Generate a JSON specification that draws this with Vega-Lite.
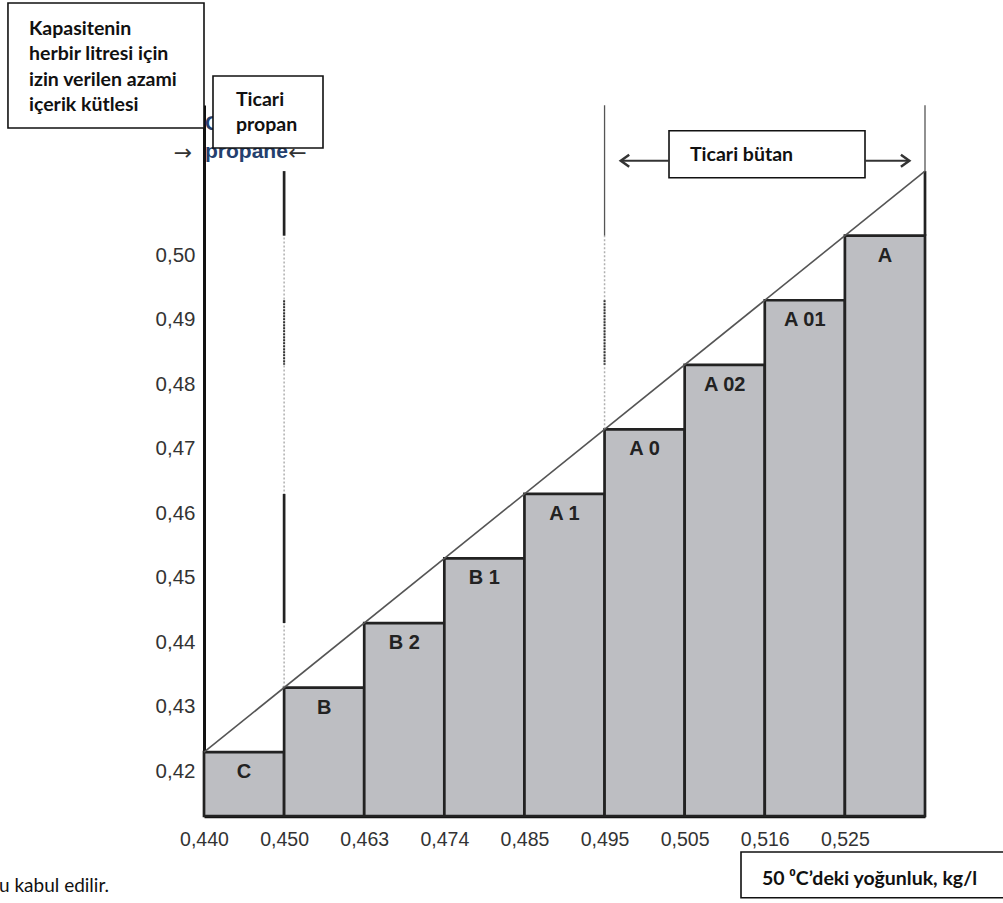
{
  "$schema": "https://vega.github.io/schema/vega-lite/v6.json",
  "width": 721,
  "height": 711,
  "autosize": {"type": "none"},
  "padding": {"left": 204, "top": 105, "right": 78, "bottom": 87},
  "background": "white",
  "config": {"view": {"stroke": null}},
  "datasets": {
    "bars": [
      {"start": 0, "end": 1, "sinif": "C", "kutle": 0.423},
      {"start": 1, "end": 2, "sinif": "B", "kutle": 0.433},
      {"start": 2, "end": 3, "sinif": "B 2", "kutle": 0.443},
      {"start": 3, "end": 4, "sinif": "B 1", "kutle": 0.453},
      {"start": 4, "end": 5, "sinif": "A 1", "kutle": 0.463},
      {"start": 5, "end": 6, "sinif": "A 0", "kutle": 0.473},
      {"start": 6, "end": 7, "sinif": "A 02", "kutle": 0.483},
      {"start": 7, "end": 8, "sinif": "A 01", "kutle": 0.493},
      {"start": 8, "end": 9, "sinif": "A", "kutle": 0.503}
    ],
    "diag": [{"k": 0, "m": 0.423}, {"k": 9, "m": 0.513}],
    "lightDots": [{"k": 1, "a": 0.433, "b": 0.513}, {"k": 5, "a": 0.473, "b": 0.503}],
    "darkSolid": [{"k": 1, "a": 0.513, "b": 0.503}, {"k": 1, "a": 0.463, "b": 0.443}, {"k": 9, "a": 0.513, "b": 0.503}],
    "darkDots": [{"k": 1, "a": 0.493, "b": 0.483}, {"k": 5, "a": 0.493, "b": 0.483}],
    "thin": [{"k": 5, "a": 0.5232, "b": 0.503}, {"k": 9, "a": 0.5232, "b": 0.513}],
    "boxes": [
      {"x1": -2.447, "x2": 0, "y1": 0.53904, "y2": 0.51968},
      {"x1": 0.1123, "x2": 1.4854, "y1": 0.52773, "y2": 0.51658},
      {"x1": 5.8045, "x2": 8.2511, "y1": 0.51926, "y2": 0.51198},
      {"x1": 6.7032, "x2": 10.05, "y1": 0.40753, "y2": 0.40044}
    ],
    "boxText": [
      {"t": "Kapasitenin\nherbir litresi için\nizin verilen azami\niçerik kütlesi", "k": -2.1845, "m": 0.53416},
      {"t": "Ticari\npropan", "k": 0.3995, "m": 0.52309},
      {"t": "Ticari bütan", "k": 6.0666, "m": 0.51457}
    ],
    "axisTitle": [{"t": "50 ⁰C’deki yoğunluk, kg/l", "k": 6.9653, "m": 0.40242}],
    "footnote": [{"t": "u kabul edilir.", "k": -2.559, "m": 0.40134}],
    "propaneText": [{"t": "C", "k": 0.0125, "m": 0.51937}, {"t": "propane", "k": 0.0125, "m": 0.51503}],
    "rightArrowChar": [{"t": "→", "k": -0.2621, "m": 0.5158}],
    "leftArrowChar": [{"t": "←", "k": 1.1671, "m": 0.5158}],
    "arrowShafts": [{"a": 5.2303, "b": 5.8045, "m": 0.51461}, {"a": 8.2511, "b": 8.8003, "m": 0.51461}],
    "leftHead": [{"k": 5.2552, "m": 0.51461}],
    "rightHead": [{"k": 8.7518, "m": 0.51461}]
  },
  "layer": [
    {
      "data": {"name": "bars"},
      "mark": {"type": "rect", "fill": "#bdbec2", "stroke": "#222222", "strokeWidth": 2.7},
      "encoding": {
        "x": {
          "field": "start", "type": "quantitative",
          "scale": {"domain": [0, 9], "nice": false, "zero": false},
          "axis": {
            "title": null, "values": [0, 1, 2, 3, 4, 5, 6, 7, 8],
            "labelExpr": "['0,440','0,450','0,463','0,474','0,485','0,495','0,505','0,516','0,525'][datum.value]",
            "labelFlush": false, "labelOverlap": false, "labelDx": -12, "tickSize": 0, "labelPadding": 14,
            "domainWidth": 3.5, "domainColor": "#111111", "grid": false,
            "labelFont": "Liberation Sans", "labelFontSize": 19.5, "labelColor": "#333333"
          }
        },
        "x2": {"field": "end"},
        "y": {
          "field": "kutle", "type": "quantitative",
          "scale": {"domain": [0.41311, 0.52324], "nice": false, "zero": false},
          "axis": {
            "title": null, "values": [0.42, 0.43, 0.44, 0.45, 0.46, 0.47, 0.48, 0.49, 0.5],
            "labelExpr": "replace(format(datum.value, '.2f'), '.', ',')",
            "tickSize": 0, "labelPadding": 9, "domainWidth": 3, "domainColor": "#111111", "grid": false,
            "labelFont": "Liberation Sans", "labelFontSize": 20.5, "labelColor": "#333333"
          }
        },
        "y2": {"datum": 0.41311}
      }
    },
    {
      "data": {"name": "lightDots"},
      "mark": {"type": "rule", "stroke": "#b0b0b0", "strokeWidth": 1.5, "strokeDash": [2, 2]},
      "encoding": {
        "x": {"field": "k", "type": "quantitative", "scale": {"domain": [0, 9], "nice": false, "zero": false}},
        "y": {"field": "a", "type": "quantitative", "scale": {"domain": [0.41311, 0.52324], "nice": false, "zero": false}},
        "y2": {"field": "b"}
      }
    },
    {
      "data": {"name": "darkSolid"},
      "mark": {"type": "rule", "stroke": "#222222", "strokeWidth": 2.7},
      "encoding": {
        "x": {"field": "k", "type": "quantitative", "scale": {"domain": [0, 9], "nice": false, "zero": false}},
        "y": {"field": "a", "type": "quantitative", "scale": {"domain": [0.41311, 0.52324], "nice": false, "zero": false}},
        "y2": {"field": "b"}
      }
    },
    {
      "data": {"name": "darkDots"},
      "mark": {"type": "rule", "stroke": "#333333", "strokeWidth": 2, "strokeDash": [2, 1]},
      "encoding": {
        "x": {"field": "k", "type": "quantitative", "scale": {"domain": [0, 9], "nice": false, "zero": false}},
        "y": {"field": "a", "type": "quantitative", "scale": {"domain": [0.41311, 0.52324], "nice": false, "zero": false}},
        "y2": {"field": "b"}
      }
    },
    {
      "data": {"name": "thin"},
      "mark": {"type": "rule", "stroke": "#555555", "strokeWidth": 1.3},
      "encoding": {
        "x": {"field": "k", "type": "quantitative", "scale": {"domain": [0, 9], "nice": false, "zero": false}},
        "y": {"field": "a", "type": "quantitative", "scale": {"domain": [0.41311, 0.52324], "nice": false, "zero": false}},
        "y2": {"field": "b"}
      }
    },
    {
      "data": {"name": "diag"},
      "mark": {"type": "line", "stroke": "#555555", "strokeWidth": 1.6},
      "encoding": {
        "x": {"field": "k", "type": "quantitative", "scale": {"domain": [0, 9], "nice": false, "zero": false}},
        "y": {"field": "m", "type": "quantitative", "scale": {"domain": [0.41311, 0.52324], "nice": false, "zero": false}}
      }
    },
    {
      "data": {"name": "bars"},
      "mark": {"type": "text", "font": "Liberation Sans", "fontWeight": "bold", "fontSize": 20, "fill": "#222222", "align": "center", "baseline": "middle", "dx": 40, "dy": 20},
      "encoding": {
        "x": {"field": "start", "type": "quantitative", "scale": {"domain": [0, 9], "nice": false, "zero": false}},
        "y": {"field": "kutle", "type": "quantitative", "scale": {"domain": [0.41311, 0.52324], "nice": false, "zero": false}},
        "text": {"field": "sinif"}
      }
    },
    {
      "data": {"name": "propaneText"},
      "mark": {"type": "text", "font": "Liberation Sans", "fontSize": 21, "fontWeight": "bold", "fill": "#24406e", "align": "left", "baseline": "alphabetic"},
      "encoding": {
        "x": {"field": "k", "type": "quantitative", "scale": {"domain": [0, 9], "nice": false, "zero": false}},
        "y": {"field": "m", "type": "quantitative", "scale": {"domain": [0.41311, 0.52324], "nice": false, "zero": false}},
        "text": {"field": "t"}
      }
    },
    {
      "data": {"name": "rightArrowChar"},
      "mark": {"type": "text", "font": "DejaVu Sans", "fontSize": 22, "fill": "#333333", "align": "center", "baseline": "middle"},
      "encoding": {
        "x": {"field": "k", "type": "quantitative", "scale": {"domain": [0, 9], "nice": false, "zero": false}},
        "y": {"field": "m", "type": "quantitative", "scale": {"domain": [0.41311, 0.52324], "nice": false, "zero": false}},
        "text": {"field": "t"}
      }
    },
    {
      "data": {"name": "leftArrowChar"},
      "mark": {"type": "text", "font": "DejaVu Sans", "fontSize": 22, "fill": "#333333", "align": "center", "baseline": "middle"},
      "encoding": {
        "x": {"field": "k", "type": "quantitative", "scale": {"domain": [0, 9], "nice": false, "zero": false}},
        "y": {"field": "m", "type": "quantitative", "scale": {"domain": [0.41311, 0.52324], "nice": false, "zero": false}},
        "text": {"field": "t"}
      }
    },
    {
      "data": {"name": "boxes"},
      "mark": {"type": "rect", "fill": "white", "stroke": "#111111", "strokeWidth": 1.6},
      "encoding": {
        "x": {"field": "x1", "type": "quantitative", "scale": {"domain": [0, 9], "nice": false, "zero": false}},
        "x2": {"field": "x2"},
        "y": {"field": "y1", "type": "quantitative", "scale": {"domain": [0.41311, 0.52324], "nice": false, "zero": false}},
        "y2": {"field": "y2"}
      }
    },
    {
      "data": {"name": "boxText"},
      "mark": {"type": "text", "font": "Lato", "fontWeight": "bold", "fontSize": 19.5, "fill": "#111111", "align": "left", "baseline": "alphabetic", "lineBreak": "\n", "lineHeight": 25.5},
      "encoding": {
        "x": {"field": "k", "type": "quantitative", "scale": {"domain": [0, 9], "nice": false, "zero": false}},
        "y": {"field": "m", "type": "quantitative", "scale": {"domain": [0.41311, 0.52324], "nice": false, "zero": false}},
        "text": {"field": "t"}
      }
    },
    {
      "data": {"name": "axisTitle"},
      "mark": {"type": "text", "font": "Lato", "fontWeight": "bold", "fontSize": 19.5, "fill": "#111111", "align": "left", "baseline": "alphabetic"},
      "encoding": {
        "x": {"field": "k", "type": "quantitative", "scale": {"domain": [0, 9], "nice": false, "zero": false}},
        "y": {"field": "m", "type": "quantitative", "scale": {"domain": [0.41311, 0.52324], "nice": false, "zero": false}},
        "text": {"field": "t"}
      }
    },
    {
      "data": {"name": "footnote"},
      "mark": {"type": "text", "font": "Lato", "fontSize": 19, "fill": "#111111", "align": "left", "baseline": "alphabetic"},
      "encoding": {
        "x": {"field": "k", "type": "quantitative", "scale": {"domain": [0, 9], "nice": false, "zero": false}},
        "y": {"field": "m", "type": "quantitative", "scale": {"domain": [0.41311, 0.52324], "nice": false, "zero": false}},
        "text": {"field": "t"}
      }
    },
    {
      "data": {"name": "arrowShafts"},
      "mark": {"type": "rule", "stroke": "#333333", "strokeWidth": 2},
      "encoding": {
        "x": {"field": "a", "type": "quantitative", "scale": {"domain": [0, 9], "nice": false, "zero": false}},
        "x2": {"field": "b"},
        "y": {"field": "m", "type": "quantitative", "scale": {"domain": [0.41311, 0.52324], "nice": false, "zero": false}}
      }
    },
    {
      "data": {"name": "leftHead"},
      "mark": {"type": "point", "shape": "M0.7,-1L-0.7,0L0.7,1", "filled": false, "stroke": "#333333", "strokeWidth": 2.5, "size": 144, "opacity": 1},
      "encoding": {
        "x": {"field": "k", "type": "quantitative", "scale": {"domain": [0, 9], "nice": false, "zero": false}},
        "y": {"field": "m", "type": "quantitative", "scale": {"domain": [0.41311, 0.52324], "nice": false, "zero": false}}
      }
    },
    {
      "data": {"name": "rightHead"},
      "mark": {"type": "point", "shape": "M-0.7,-1L0.7,0L-0.7,1", "filled": false, "stroke": "#333333", "strokeWidth": 2.5, "size": 144, "opacity": 1},
      "encoding": {
        "x": {"field": "k", "type": "quantitative", "scale": {"domain": [0, 9], "nice": false, "zero": false}},
        "y": {"field": "m", "type": "quantitative", "scale": {"domain": [0.41311, 0.52324], "nice": false, "zero": false}}
      }
    }
  ]
}
